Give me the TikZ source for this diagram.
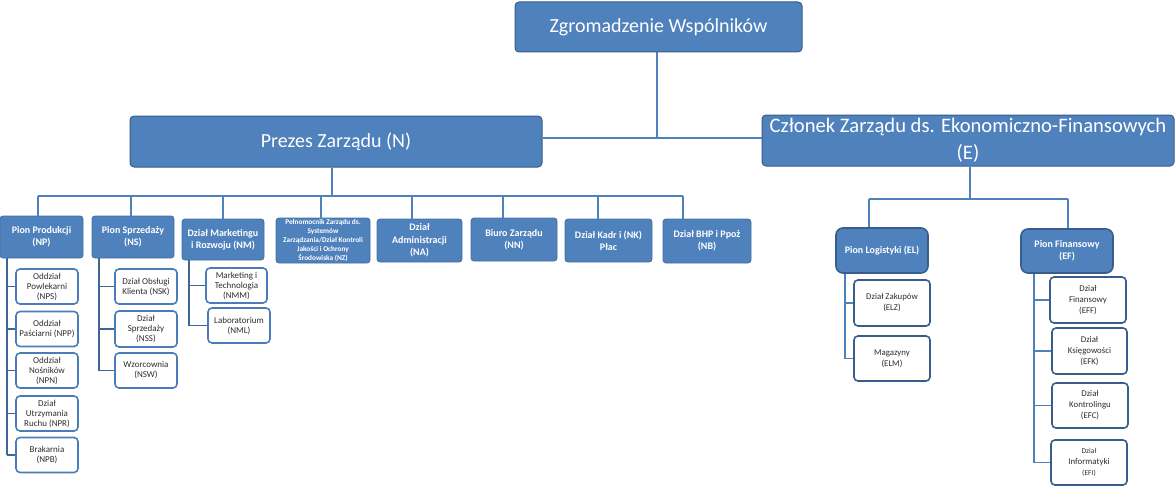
\documentclass[tikz,border=0pt]{standalone}
\usepackage{fontspec}
\setmainfont{Carlito}
\definecolor{fillblue}{HTML}{4F81BD}
\definecolor{darkblue}{HTML}{385D8A}
\definecolor{leafline}{HTML}{4A7CBA}
\definecolor{txtgray}{HTML}{2E2E2E}
\begin{document}
\begin{tikzpicture}[x=1pt,y=-1pt,
  top/.style={draw=darkblue, line width=1pt, fill=fillblue, rounded corners=4pt, text=white,
    font=\fontsize{20}{24}\selectfont, align=center, inner sep=0pt},
  mid/.style={draw=fillblue!85!black, line width=0.8pt, fill=fillblue, rounded corners=3pt, text=white,
    font=\bfseries\fontsize{10}{12}\selectfont, align=center, inner sep=0pt},
  pion/.style={draw=darkblue, line width=1.6pt, fill=fillblue, rounded corners=7pt, text=white,
    font=\bfseries\fontsize{10}{12}\selectfont, align=center, inner sep=0pt},
  leaf/.style={draw=leafline, line width=1.6pt, fill=white, rounded corners=4pt, text=txtgray,
    font=\fontsize{9}{10}\selectfont, align=center, inner sep=0pt, minimum width=62, minimum height=35},
  leafE/.style={leaf, draw=darkblue, font=\fontsize{8.8}{11}\selectfont, minimum width=76, minimum height=45},
  conn/.style={draw=fillblue, line width=1.6pt},
  connD/.style={draw=darkblue!75!fillblue, line width=1.6pt}
]
\useasboundingbox (0,0) rectangle (1176,487);

% top level
\node[top, minimum width=287, minimum height=50] (ZW) at (658.5,27) {Zgromadzenie Wspólników};
\node[top, minimum width=412, minimum height=51] (N) at (336,141.5) {Prezes Zarządu (N)};
\node[top, minimum width=412, minimum height=51, font=\fontsize{20.6}{27}\selectfont] (E) at (968,140.5) {Członek Zarządu ds. Ekonomiczno-Finansowych\\(E)};

% second level under N
\node[mid, minimum width=83, minimum height=42] (NP) at (41.5,237) {Pion Produkcji\\(NP)};
\node[mid, minimum width=82, minimum height=42] (NS) at (133,237) {Pion Sprzedaży\\(NS)};
\node[mid, minimum width=82, minimum height=41] (NM) at (223,239.5) {Dział Marketingu\\i Rozwoju (NM)};
\node[mid, minimum width=94, minimum height=45, font=\bfseries\fontsize{7.3}{9}\selectfont] (NZ) at (323,240.5)
  {Pełnomocnik Zarządu ds.\\Systemów\\Zarządzania/Dział Kontroli\\Jakości i Ochrony\\Środowiska (NZ)};
\node[mid, minimum width=85, minimum height=43, font=\bfseries\fontsize{10}{12.5}\selectfont] (NA) at (419.5,240.5) {Dział\\Administracji\\(NA)};
\node[mid, minimum width=86, minimum height=43] (NN) at (514,239.5) {Biuro Zarządu\\(NN)};
\node[mid, minimum width=87, minimum height=43] (NK) at (608.5,240.5) {Dział Kadr i (NK)\\Płac};
\node[mid, minimum width=88, minimum height=44] (NB) at (707,241) {Dział BHP i Ppoż\\(NB)};

% second level under E
\node[pion, minimum width=92, minimum height=45] (EL) at (882,250.5) {Pion Logistyki (EL)};
\node[pion, minimum width=92, minimum height=44] (EF) at (1067,251) {Pion Finansowy\\(EF)};

% leaves NP
\node[leaf] (NPS) at (47,286.5) {Oddział\\Powlekarni\\(NPS)};
\node[leaf] (NPP) at (47,329) {Oddział\\Paściarni (NPP)};
\node[leaf] (NPN) at (47,370.5) {Oddział\\Nośników\\(NPN)};
\node[leaf] (NPR) at (47,413.5) {Dział\\Utrzymania\\Ruchu (NPR)};
\node[leaf] (NPB) at (47,455) {Brakarnia\\(NPB)};
% leaves NS
\node[leaf] (NSK) at (146,286.5) {Dział Obsługi\\Klienta (NSK)};
\node[leaf, minimum height=36] (NSS) at (146,329) {Dział\\Sprzedaży\\(NSS)};
\node[leaf] (NSW) at (146,370.5) {Wzorcownia\\(NSW)};
% leaves NM
\node[leaf, minimum width=61] (NMM) at (236.5,285.5) {Marketing i\\Technologia\\(NMM)};
\node[leaf] (NML) at (239,325.5) {Laboratorium\\(NML)};
% leaves EL
\node[leafE, minimum height=46] (ELZ) at (892,303) {Dział Zakupów\\(ELZ)};
\node[leafE] (ELM) at (892,358.5) {Magazyny\\(ELM)};
% leaves EF
\node[leafE, minimum height=46] (EFF) at (1088,300) {Dział\\Finansowy\\(EFF)};
\node[leafE, minimum height=46, minimum width=75] (EFK) at (1089.5,351) {Dział\\Księgowości\\(EFK)};
\node[leafE] (EFC) at (1090,405.5) {Dział\\Kontrolingu\\(EFC)};
\node[leafE] (EFI) at (1089,462.5) {{\fontsize{7.5}{11}\selectfont Dział}\\Informatyki\\{\fontsize{7.5}{11}\selectfont (EFI)}};

% connectors: top
\coordinate (j0) at (657,138);
\draw[conn] (ZW.south -| j0) -- (j0);
\draw[conn] (N.east |- j0) -- (E.west |- j0);

% bus under N
\coordinate (busN) at (0,196);
\coordinate (dN) at (332,0);
\coordinate (bNP) at (38,196);
\coordinate (bNS) at (131,196);
\coordinate (bNM) at (223,196);
\coordinate (bNZ) at (321,196);
\coordinate (bNA) at (412,196);
\coordinate (bNN) at (503,196);
\coordinate (bNK) at (598,196);
\coordinate (bNB) at (683,196);
\draw[conn] (N.south -| dN) -- (dN |- busN);
\draw[conn] (bNP) -- (bNB);
\foreach \n in {NP,NS,NM,NZ,NA,NN,NK,NB}
  \draw[conn] (b\n) -- (b\n |- \n.north);

% bus under E
\coordinate (busE) at (0,199);
\coordinate (dE) at (970,0);
\coordinate (bEL) at (869,199);
\coordinate (bEF) at (1068,199);
\draw[conn] (E.south -| dE) -- (dE |- busE);
\draw[conn] (bEL) -- (bEF);
\draw[conn] (bEL) -- (bEL |- EL.north);
\draw[conn] (bEF) -- (bEF |- EF.north);

% NP children
\coordinate (vNP) at (7,0);
\draw[connD] (vNP |- NP.south) -- (vNP |- NPB.west);
\foreach \c in {NPS,NPP,NPN,NPR,NPB}
  \draw[connD] (vNP |- \c.west) -- (\c.west);
% NS children
\coordinate (vNS) at (99,0);
\draw[connD] (vNS |- NS.south) -- (vNS |- NSW.west);
\foreach \c in {NSK,NSS,NSW}
  \draw[connD] (vNS |- \c.west) -- (\c.west);
% NM children
\coordinate (vNM) at (189,0);
\draw[connD] (vNM |- NM.south) -- (vNM |- NML.west);
\foreach \c in {NMM,NML}
  \draw[connD] (vNM |- \c.west) -- (\c.west);
% EL children
\coordinate (vEL) at (845,0);
\draw[conn] (vEL |- EL.south) -- (vEL |- ELM.west);
\foreach \c in {ELZ,ELM}
  \draw[conn] (vEL |- \c.west) -- (\c.west);
% EF children
\coordinate (vEF) at (1034,0);
\draw[conn] (vEF |- EF.south) -- (vEF |- EFI.west);
\foreach \c in {EFF,EFK,EFC,EFI}
  \draw[conn] (vEF |- \c.west) -- (\c.west);
\end{tikzpicture}
\end{document}
